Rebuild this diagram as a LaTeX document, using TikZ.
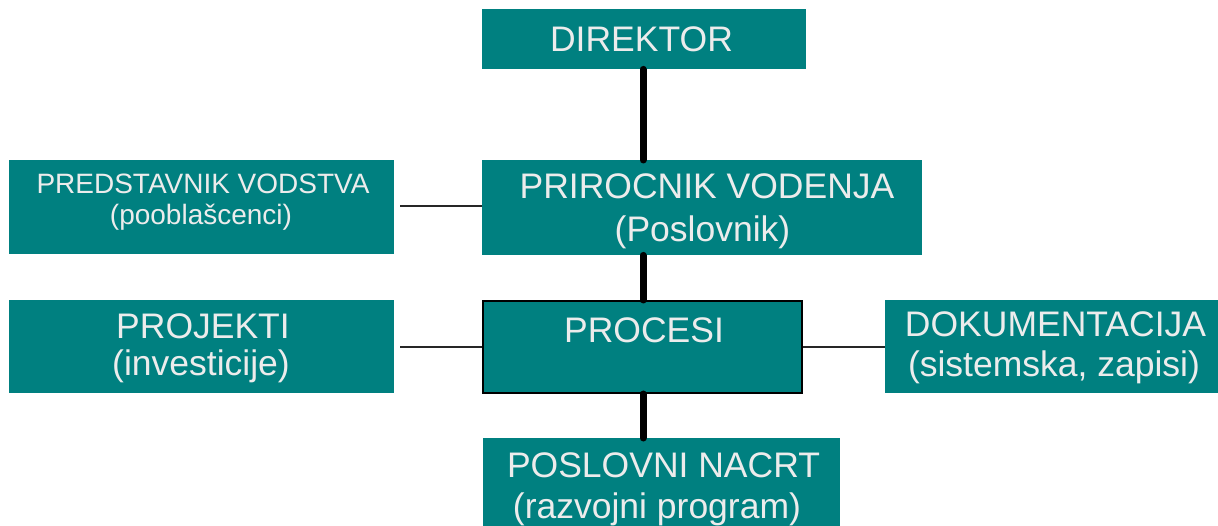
\documentclass[tikz,border=0pt]{standalone}
\usepackage{fontspec}
\setmainfont{Liberation Sans}
\definecolor{boxteal}{HTML}{008080}
\definecolor{boxtext}{HTML}{ECECEC}
\begin{document}
\begin{tikzpicture}[x=1pt,y=-1pt,
  orgbox/.style={rectangle, fill=boxteal, inner sep=0pt, anchor=north west},
  boxlabel/.style={text=boxtext, inner sep=0pt, anchor=base,
    font=\fontsize{35.5}{42}\selectfont},
  smalllabel/.style={boxlabel, font=\fontsize{28}{34}\selectfont},
  mainlink/.style={line width=7pt, line cap=round, black},
  sidelink/.style={line width=2pt, black!85}]
\useasboundingbox (0,0) rectangle (1218,526);
% boxes, placed by their top left corner
\node[orgbox, minimum width=324pt, minimum height=60pt] (dir) at (482,9) {};
\node[orgbox, minimum width=440pt, minimum height=95pt] (man) at (482,160) {};
\node[orgbox, minimum width=385pt, minimum height=94pt] (rep) at (9,160) {};
\node[orgbox, minimum width=385pt, minimum height=93pt] (proj) at (9,300) {};
\node[orgbox, draw=black, line width=2pt, minimum width=319pt,
  minimum height=92pt] (proc) at (482,300) {};
\node[orgbox, minimum width=333pt, minimum height=93pt] (doc) at (885,300) {};
\node[orgbox, minimum width=357pt, minimum height=95pt] (plan) at (483,438) {};
% box texts, placed by their baselines
\node[boxlabel] (dir-a) at (641.5,52) {DIREKTOR};
\node[boxlabel] (man-a) at (707,199) {PRIROCNIK VODENJA};
\node[boxlabel] (man-b) at (702.5,242) {(Poslovnik)};
\node[smalllabel] (rep-a) at (203,194) {PREDSTAVNIK VODSTVA};
\node[smalllabel] (rep-b) at (201,225) {(pooblašcenci)};
\node[boxlabel] (proj-a) at (203,339) {PROJEKTI};
\node[boxlabel] (proj-b) at (201,376) {(investicije)};
\node[boxlabel] (proc-a) at (644,343) {PROCESI};
\node[boxlabel] (doc-a) at (1055.5,337) {DOKUMENTACIJA};
\node[boxlabel] (doc-b) at (1054,377) {(sistemska, zapisi)};
\node[boxlabel] (plan-a) at (663.5,477) {POSLOVNI NACRT};
\node[boxlabel] (plan-b) at (657,518) {(razvojni program)};
% connectors
\draw[mainlink] (dir.south -| 643,0) -- (man.north -| 643,0);
\draw[mainlink] (man.south -| 643,0) -- (proc.north -| 643,0);
\draw[mainlink] (proc.south -| 643,0) -- (plan.north -| 643,0);
\draw[sidelink] ([xshift=6pt]rep.east |- 0,206) -- (man.west |- 0,206);
\draw[sidelink] ([xshift=6pt]proj.east |- 0,347) -- (proc.west |- 0,347);
\draw[sidelink] (proc.east |- 0,347) -- (doc.west |- 0,347);
\end{tikzpicture}
\end{document}
